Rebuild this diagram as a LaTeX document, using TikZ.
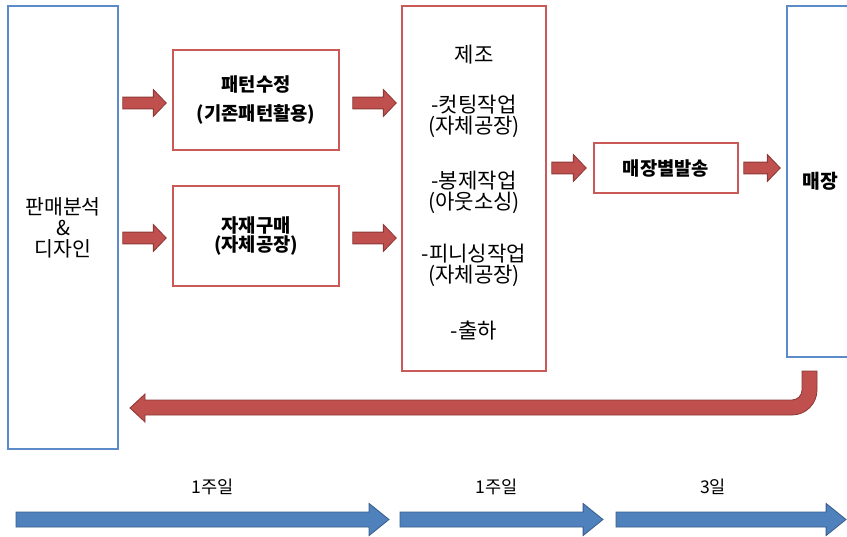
\documentclass[tikz,border=0pt]{standalone}
\usepackage{fontspec}
\setmainfont{Noto Sans CJK KR}
\usetikzlibrary{calc}

\definecolor{boxred}{HTML}{C95A58}
\definecolor{boxblue}{HTML}{5B8BC9}
\definecolor{arrred}{HTML}{C0504D}
\definecolor{arrredline}{HTML}{8C3836}
\definecolor{arrblue}{HTML}{4F81BD}
\definecolor{arrblueline}{HTML}{385D8A}

\tikzset{
  redbox/.style={draw=boxred, line width=1.3pt, inner sep=0pt, align=center, font=\bfseries\fontsize{16}{17}\selectfont},
  bluebox/.style={draw=boxblue, line width=1.3pt, inner sep=0pt, align=center},
  redarrow/.style={fill=arrred, draw=arrredline, line width=0.7pt, line join=miter},
  bluearrow/.style={fill=arrblue, draw=arrblueline, line width=0.7pt, line join=miter}
}

% block arrow: style, start, end, half shaft, half head, head length
\newcommand{\blockarr}[6]{%
  \filldraw[#1] let \p1=#2, \p2=#3 in
    (\x1,\y1+#4) -- (\x2-#6,\y1+#4) -- (\x2-#6,\y1+#5) -- (\x2,\y1)
    -- (\x2-#6,\y1-#5) -- (\x2-#6,\y1-#4) -- (\x1,\y1-#4) -- cycle;}

\begin{document}
\begin{tikzpicture}[x=0.03cm, y=0.03cm]
\useasboundingbox (0,0) rectangle (847,-536);

% boxes
\node[bluebox, minimum width=3.3cm, minimum height=13.29cm, font=\fontsize{17.5}{18}\selectfont] (ana) at (63,-227.5) {판매분석\\\&\\디자인};
\node[redbox, minimum width=4.98cm, minimum height=3cm] (pat) at (256,-100) {패턴수정\\[7pt](기존패턴활용)};
\node[redbox, minimum width=4.98cm, minimum height=3cm] (mat) at (256,-236) {자재구매\\(자체공장)};
\node[redbox, minimum width=4.32cm, minimum height=10.95cm] (mfg) at (474,-188.5) {};
\node[align=center, inner sep=0pt, font=\fontsize{18}{18}\selectfont] (mfgtxt) at ($(mfg.center)+(0,-4)$)
  {제조\\[24.5pt]-컷팅작업\\(자체공장)\\[27.5pt]-봉제작업\\(아웃소싱)\\[25pt]-피니싱작업\\(자체공장)\\[28.5pt]-출하};
\node[redbox, minimum width=4.32cm, minimum height=1.5cm] (ship) at (666,-168) {매장별발송};
\node[bluebox, minimum width=1.98cm, minimum height=10.53cm, font=\bfseries\fontsize{16.5}{17}\selectfont] (shop) at (820,-181.5) {매장};

% red arrows between boxes
\blockarr{redarrow}{($(ana.east |- pat)+(4,-3)$)}{($(pat.west)+(-6,-3)$)}{5pt}{11.5pt}{11pt}
\blockarr{redarrow}{($(ana.east |- mat)+(4,-2)$)}{($(mat.west)+(-6,-2)$)}{5pt}{11.5pt}{11pt}
\blockarr{redarrow}{($(pat.east)+(13,-3)$)}{($(mfg.west |- pat)+(-5,-3)$)}{5pt}{11.5pt}{11pt}
\blockarr{redarrow}{($(mat.east)+(13,-2)$)}{($(mfg.west |- mat)+(-5,-2)$)}{5pt}{11.5pt}{11pt}
\blockarr{redarrow}{($(mfg.east |- ship)+(5,0)$)}{($(ship.west)+(-7,0)$)}{5pt}{11.5pt}{11pt}
\blockarr{redarrow}{($(ship.east)+(5,0)$)}{($(shop.west |- ship)+(-6,0)$)}{5pt}{11.5pt}{11pt}

% return arrow
\filldraw[redarrow] (802,-371) -- (817,-371) -- (817,-390) arc[start angle=0, end angle=-90, radius=25]
  -- (145,-415) -- (145,-422) -- (130,-408) -- (145,-394) -- (145,-400) -- (792,-400)
  arc[start angle=-90, end angle=0, radius=10] -- cycle;

% time line
\foreach \xa/\xb/\xl/\lab in {16/389/213/1주일, 400/603/497/1주일, 616/846/713/3일}
{
  \blockarr{bluearrow}{(\xa,-519.5)}{(\xb,-519.5)}{6.4pt}{13.7pt}{17pt}
  \node[font=\fontsize{15}{16}\selectfont] (t\xa) at (\xl,-487) {\lab};
}
\end{tikzpicture}
\end{document}
